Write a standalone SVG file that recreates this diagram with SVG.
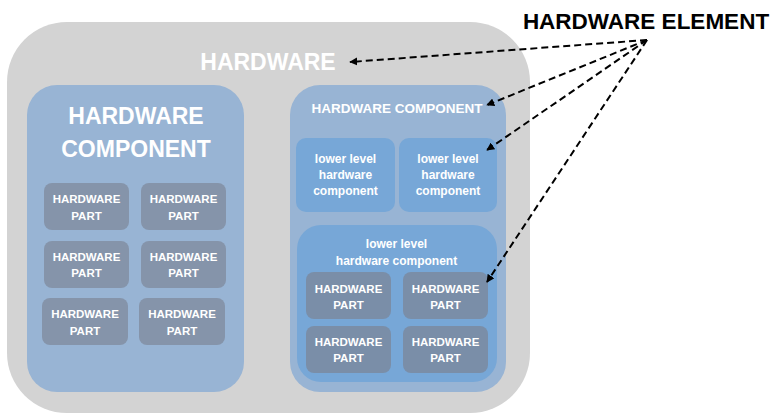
<svg xmlns="http://www.w3.org/2000/svg" width="772" height="415" viewBox="0 0 772 415">
  <defs>
    <marker id="arrow" viewBox="0 0 10 10" refX="9" refY="5" markerWidth="4" markerHeight="4" orient="auto" markerUnits="strokeWidth">
      <path d="M0,0 L10,5 L0,10 z" fill="#000"/>
    </marker>
  </defs>
  <style>
    text { font-family: "Liberation Sans", Arial, sans-serif; font-weight: bold; fill: #ffffff; text-anchor: middle; }
    .outer { fill: #d3d3d3; }
    .comp { fill: #98b4d4; }
    .lower { fill: #77a7d7; }
    .part { fill: #8594aa; }
    .part2 { fill: #7a8ea8; }
    .pt { font-size: 11.5px; }
    .lt { font-size: 12px; }
    .conn { stroke: #000; stroke-width: 2; stroke-dasharray: 7 4; fill: none; marker-end: url(#arrow); }
    .legend { fill: #000; font-size: 22.5px; }
  </style>

  <!-- top-level hardware container -->
  <g id="hardware">
    <rect class="outer" x="7" y="22" width="523" height="391" rx="60" ry="60"/>
    <text x="268" y="70" font-size="23">HARDWARE</text>
  </g>

  <!-- left component with six parts -->
  <g id="component-left">
    <rect class="comp" x="27" y="85" width="217" height="307" rx="30" ry="30"/>
    <text x="136" y="124" font-size="23">HARDWARE</text>
    <text x="136" y="157" font-size="23">COMPONENT</text>
  </g>
  <g id="part-l1"><rect class="part" x="44" y="183" width="85" height="47" rx="8"/><text class="pt" x="86.5" y="203">HARDWARE</text><text class="pt" x="86.5" y="220">PART</text></g>
  <g id="part-l2"><rect class="part" x="141" y="183" width="85" height="47" rx="8"/><text class="pt" x="183.5" y="203">HARDWARE</text><text class="pt" x="183.5" y="220">PART</text></g>
  <g id="part-l3"><rect class="part" x="44" y="241" width="85" height="47" rx="8"/><text class="pt" x="86.5" y="261">HARDWARE</text><text class="pt" x="86.5" y="277">PART</text></g>
  <g id="part-l4"><rect class="part" x="141" y="241" width="85" height="47" rx="8"/><text class="pt" x="183.5" y="261">HARDWARE</text><text class="pt" x="183.5" y="277">PART</text></g>
  <g id="part-l5"><rect class="part" x="42" y="298" width="86" height="47" rx="8"/><text class="pt" x="85" y="318">HARDWARE</text><text class="pt" x="85" y="335">PART</text></g>
  <g id="part-l6"><rect class="part" x="139" y="298" width="86" height="47" rx="8"/><text class="pt" x="182" y="318">HARDWARE</text><text class="pt" x="182" y="335">PART</text></g>

  <!-- right component with nested lower level components -->
  <g id="component-right">
    <rect class="comp" x="290" y="85" width="216" height="307" rx="30" ry="30"/>
    <text x="397" y="113" font-size="13.5">HARDWARE COMPONENT</text>
  </g>
  <g id="lower-a">
    <rect class="lower" x="296" y="138" width="99" height="74" rx="10"/>
    <text class="lt" x="345.5" y="163">lower level</text>
    <text class="lt" x="345.5" y="179">hardware</text>
    <text class="lt" x="345.5" y="195">component</text>
  </g>
  <g id="lower-b">
    <rect class="lower" x="399" y="138" width="98" height="74" rx="10"/>
    <text class="lt" x="448" y="163">lower level</text>
    <text class="lt" x="448" y="179">hardware</text>
    <text class="lt" x="448" y="195">component</text>
  </g>
  <g id="lower-c">
    <rect class="lower" x="297" y="225" width="200" height="157" rx="24"/>
    <text class="lt" x="396.5" y="248">lower level</text>
    <text class="lt" x="396.5" y="265">hardware  component</text>
  </g>
  <g id="part-r1"><rect class="part2" x="306" y="272" width="85" height="47" rx="8"/><text class="pt" x="348.5" y="293">HARDWARE</text><text class="pt" x="348.5" y="309">PART</text></g>
  <g id="part-r2"><rect class="part2" x="403" y="272" width="85" height="47" rx="8"/><text class="pt" x="445.5" y="293">HARDWARE</text><text class="pt" x="445.5" y="309">PART</text></g>
  <g id="part-r3"><rect class="part2" x="306" y="326" width="85" height="47" rx="8"/><text class="pt" x="348.5" y="346">HARDWARE</text><text class="pt" x="348.5" y="362">PART</text></g>
  <g id="part-r4"><rect class="part2" x="403" y="326" width="85" height="47" rx="8"/><text class="pt" x="445.5" y="346">HARDWARE</text><text class="pt" x="445.5" y="362">PART</text></g>

  <!-- legend label -->
  <g id="hardware-element">
    <text class="legend" x="646" y="29">HARDWARE ELEMENT</text>
  </g>

  <!-- dashed pointers from the legend label -->
  <g id="connectors">
    <line class="conn" x1="647" y1="40" x2="350" y2="62"/>
    <line class="conn" x1="647" y1="40" x2="487" y2="105"/>
    <line class="conn" x1="647" y1="40" x2="487" y2="150"/>
    <line class="conn" x1="647" y1="40" x2="487" y2="282"/>
  </g>
</svg>
